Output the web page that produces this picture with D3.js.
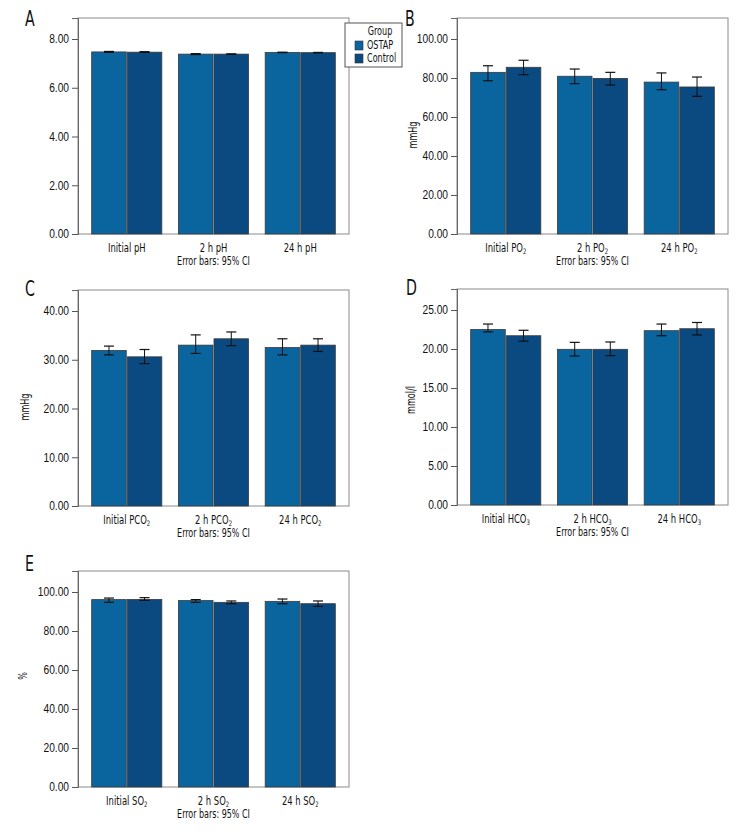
<!DOCTYPE html>
<html><head><meta charset="utf-8">
<script src="https://cdn.jsdelivr.net/npm/d3@7"></script>
<style>
body{margin:0;background:#fff;}
svg{display:block;font-family:"DejaVu Sans Condensed","DejaVu Sans",sans-serif;font-stretch:condensed;}
</style></head><body>
<svg id="chart" width="744" height="840"></svg>
<script>
const groups = ["OSTAP", "Control"];
const groupColors = ["#0a659e", "#0b4a80"];

// Panel A: pH
const catsA = ["Initial pH", "2 h pH", "24 h pH"];
const ostapA = [7.47, 7.38, 7.45];
const ostapA_lo = [7.45, 7.36, 7.44];
const ostapA_hi = [7.49, 7.40, 7.46];
const controlA = [7.46, 7.38, 7.44];
const controlA_lo = [7.45, 7.37, 7.43];
const controlA_hi = [7.48, 7.39, 7.45];
const ticksA = [0, 2, 4, 6, 8];

// Panel B: PO2
const catsB = ["Initial PO2", "2 h PO2", "24 h PO2"];
const ostapB = [82.9, 80.9, 77.9];
const ostapB_lo = [78.6, 77.1, 74.0];
const ostapB_hi = [86.3, 84.6, 82.6];
const controlB = [85.5, 79.8, 75.4];
const controlB_lo = [81.7, 76.4, 70.6];
const controlB_hi = [89.1, 82.9, 80.5];
const ticksB = [0, 20, 40, 60, 80, 100];

// Panel C: PCO2
const catsC = ["Initial PCO2", "2 h PCO2", "24 h PCO2"];
const ostapC = [31.9, 33.0, 32.5];
const ostapC_lo = [31.0, 31.3, 31.0];
const ostapC_hi = [32.8, 35.1, 34.3];
const controlC = [30.6, 34.3, 33.0];
const controlC_lo = [29.2, 32.9, 31.7];
const controlC_hi = [32.1, 35.7, 34.3];
const ticksC = [0, 10, 20, 30, 40];

// Panel D: HCO3
const catsD = ["Initial HCO3", "2 h HCO3", "24 h HCO3"];
const ostapD = [22.5, 19.96, 22.35];
const ostapD_lo = [22.2, 19.1, 21.7];
const ostapD_hi = [23.2, 20.85, 23.2];
const controlD = [21.7, 19.96, 22.6];
const controlD_lo = [21.0, 19.15, 21.8];
const controlD_hi = [22.4, 20.9, 23.4];
const ticksD = [0, 5, 10, 15, 20, 25];

// Panel E: SO2
const catsE = ["Initial SO2", "2 h SO2", "24 h SO2"];
const ostapE = [96.1, 95.6, 95.2];
const ostapE_lo = [94.7, 94.7, 94.0];
const ostapE_hi = [96.9, 96.1, 96.4];
const controlE = [96.2, 94.7, 94.0];
const controlE_lo = [95.7, 94.0, 92.6];
const controlE_hi = [97.1, 95.4, 95.4];
const ticksE = [0, 20, 40, 60, 80, 100];

const panels = [
  {letter:"A", cats:catsA, o:ostapA, oLo:ostapA_lo, oHi:ostapA_hi, c:controlA, cLo:controlA_lo, cHi:controlA_hi, ticks:ticksA, ylab:null, x:78, y:18, lx:25, ly:26, legend:true},
  {letter:"B", cats:catsB, o:ostapB, oLo:ostapB_lo, oHi:ostapB_hi, c:controlB, cLo:controlB_lo, cHi:controlB_hi, ticks:ticksB, ylab:"mmHg", ydx:-40, ydy:9, x:457, y:18, lx:405, ly:26},
  {letter:"C", cats:catsC, o:ostapC, oLo:ostapC_lo, oHi:ostapC_hi, c:controlC, cLo:controlC_lo, cHi:controlC_hi, ticks:ticksC, ylab:"mmHg", ydx:-49, ydy:9, x:78, y:290, lx:25, ly:296},
  {letter:"D", cats:catsD, o:ostapD, oLo:ostapD_lo, oHi:ostapD_hi, c:controlD, cLo:controlD_lo, cHi:controlD_hi, ticks:ticksD, ylab:"mmol/l", ydx:-42, ydy:3, x:457, y:289, lx:406, ly:295},
  {letter:"E", cats:catsE, o:ostapE, oLo:ostapE_lo, oHi:ostapE_hi, c:controlE, cLo:controlE_lo, cHi:controlE_hi, ticks:ticksE, ylab:"%", ydx:-51, ydy:-3, x:78, y:571, lx:25, ly:571}
];

const W = 271, H = 216;
const FS = "12px";
const svg = d3.select("#chart");

function addLabel(sel, label) {
  const m = label.match(/^(.*[OC])(\d)$/);
  if (m) {
    sel.append("tspan").text(m[1]);
    sel.append("tspan").attr("font-size", "7.5px").attr("dy", 2.5).text(m[2]);
  } else {
    sel.text(label);
  }
}

panels.forEach(p => {
  const g = svg.append("g").attr("transform", `translate(${p.x},${p.y})`);
  const maxTick = d3.max(p.ticks);
  const y = d3.scaleLinear().domain([0, maxTick * 216 / 195]).range([H, 0]);
  const x0 = d3.scaleBand().domain(p.cats).range([0, W]).paddingInner(0.18).paddingOuter(0.152);
  const x1 = d3.scaleBand().domain(groups).range([0, x0.bandwidth()]);

  g.append("rect").attr("x", 0).attr("y", 0).attr("width", W).attr("height", H)
    .attr("fill", "none").attr("stroke", "#8a8a8a").attr("stroke-width", 1);

  const ya = g.append("g").call(d3.axisLeft(y).tickValues(p.ticks).tickFormat(d3.format(".2f")).tickSize(6).tickPadding(3));
  ya.select(".domain").attr("stroke", "#666");
  ya.selectAll(".tick line").attr("stroke", "#555");
  ya.selectAll(".tick text").attr("font-size", FS).attr("fill", "#111").attr("font-family", "inherit").attr("data-k", 0.85);

  p.cats.forEach((cat, i) => {
    const series = [
      {grp:"OSTAP", v:p.o[i], lo:p.oLo[i], hi:p.oHi[i], col:groupColors[0]},
      {grp:"Control", v:p.c[i], lo:p.cLo[i], hi:p.cHi[i], col:groupColors[1]}
    ];
    series.forEach(s => {
      const bx = x0(cat) + x1(s.grp);
      g.append("rect").attr("x", bx + 0.5).attr("y", y(s.v)).attr("width", x1.bandwidth() - 1)
        .attr("height", H - y(s.v)).attr("fill", s.col).attr("stroke", "#3a3a3a").attr("stroke-width", 0.8);
      const cx = bx + x1.bandwidth() / 2;
      g.append("line").attr("x1", cx).attr("x2", cx).attr("y1", y(s.hi)).attr("y2", y(s.lo)).attr("stroke", "#111").attr("stroke-width", 1);
      [s.hi, s.lo].forEach(val => {
        g.append("line").attr("x1", cx - 5).attr("x2", cx + 5).attr("y1", y(val)).attr("y2", y(val)).attr("stroke", "#111").attr("stroke-width", 1.2);
      });
    });
    const t = g.append("text").attr("x", x0(cat) + x0.bandwidth() / 2).attr("y", H + 17.5)
      .attr("text-anchor", "middle").attr("font-size", FS).attr("fill", "#111").attr("data-k", 0.78);
    addLabel(t, cat);
  });

  g.append("text").attr("x", W / 2).attr("y", H + 31).attr("text-anchor", "middle")
    .attr("font-size", FS).attr("fill", "#111").attr("data-k", 0.74).text("Error bars: 95% CI");

  if (p.ylab) {
    g.append("text").attr("transform", `translate(${p.ydx},${H / 2 + p.ydy}) rotate(-90)`)
      .attr("text-anchor", "middle").attr("font-size", "11.5px").attr("fill", "#111").text(p.ylab);
  }

  svg.append("text").attr("x", p.lx).attr("y", p.ly).attr("font-size", "21px").attr("fill", "#111")
    .attr("data-k", 0.75).text(p.letter);

  if (p.legend) {
    const lg = svg.append("g").attr("transform", "translate(345,23)");
    lg.append("rect").attr("width", 57).attr("height", 44).attr("fill", "#fff").attr("stroke", "#555").attr("stroke-width", 1);
    lg.append("text").attr("x", 35).attr("y", 12).attr("text-anchor", "middle").attr("font-size", "11.5px").attr("fill", "#111").text("Group");
    groups.forEach((gname, k) => {
      lg.append("rect").attr("x", 10).attr("y", 18 + k * 13).attr("width", 8).attr("height", 9)
        .attr("fill", groupColors[k]).attr("stroke", "#333").attr("stroke-width", 0.6);
      lg.append("text").attr("x", 22).attr("y", 26 + k * 13).attr("font-size", "11.5px").attr("fill", "#111").text(gname);
    });
  }
});

// condense all text horizontally to mimic the narrow typeface of the original
svg.selectAll("text").each(function() {
  const k = +this.getAttribute("data-k") || 0.78;
  const len = this.getComputedTextLength();
  if (len > 0) {
    this.setAttribute("textLength", (len * k).toFixed(2));
    this.setAttribute("lengthAdjust", "spacingAndGlyphs");
  }
});
</script>
</body></html>
